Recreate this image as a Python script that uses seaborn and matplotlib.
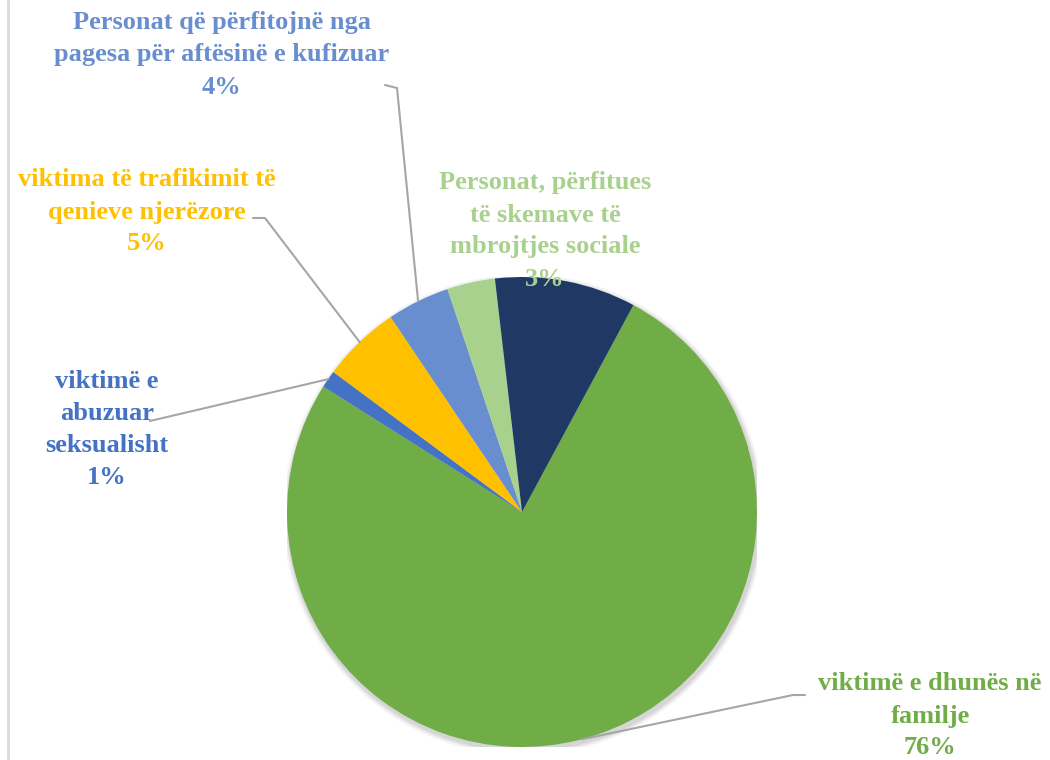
import matplotlib.pyplot as plt
import numpy as np
import seaborn as sns
from matplotlib.lines import Line2D
from matplotlib.patches import Circle

# slice values (share of cases, %), clockwise from the navy/green boundary
categories = [
    "viktimë e dhunës në\nfamilje",
    "viktimë e\nabuzuar\nseksualisht",
    "viktima të trafikimit të\nqenieve njerëzore",
    "Personat që përfitojnë nga\npagesa për aftësinë e kufizuar",
    "Personat, përfitues\ntë skemave të\nmbrojtjes sociale",
    "",
]
values = [76.1, 1.2, 5.4, 4.3, 3.3, 9.7]
colors = ["#70AD47", "#4472C4", "#FFC000", "#698ED0", "#A9D18E", "#203864"]
show_label = [True, True, True, True, True, False]

sns.set_theme(style="white")
plt.rcParams['font.family'] = ['Liberation Serif', 'DejaVu Serif']

W, H = 1050, 760
cx, cy, R = 522, 512, 235  # pie centre and radius in pixels
fig = plt.figure(figsize=(W / 100, H / 100), dpi=100)
ax = fig.add_axes([(cx - R) / W, (H - cy - R) / H, 2 * R / W, 2 * R / H])

# soft shadow under the pie
for i, a in enumerate([0.05, 0.05, 0.04, 0.03]):
    ax.add_patch(Circle((0.006, -0.012), 1.0 + 0.006 * (i + 1), color='black',
                        alpha=a, lw=0, zorder=0))

wedges, _ = ax.pie(values, colors=colors, startangle=90 - 28.3, counterclock=False,
                   radius=1.0, wedgeprops=dict(linewidth=0))
ax.set_xlim(-1, 1)
ax.set_ylim(-1, 1)
ax.set_aspect('equal')
ax.axis('off')


def px(x, y):
    return (x - cx) / R, (cy - y) / R


# label layout: text centre, leader start, optional elbow (pixels)
layout = [
    dict(text=(930, 716), start=(805, 695), elbow=(793, 695)),
    dict(text=(107, 430), start=(150, 421), elbow=None),
    dict(text=(147, 212), start=(253, 218), elbow=(265, 218)),
    dict(text=(222, 55), start=(385, 85), elbow=(397, 88)),
    dict(text=(545, 231), start=None, elbow=None),
    None,
]

total = sum(values)
for w, cat, val, col, show, lay in zip(wedges, categories, values, colors, show_label, layout):
    if not show:
        continue
    pct = f"{round(val / total * 100):.0f}%"
    tx, ty = px(*lay['text'])
    ax.text(tx, ty, f"{cat}\n{pct}", ha='center', va='center', color=col,
            fontsize=19, fontweight='bold', linespacing=1.5, zorder=5)
    if lay['start'] is not None:
        mid = np.deg2rad((w.theta1 + w.theta2) / 2)
        pts = [px(*lay['start'])]
        if lay['elbow'] is not None:
            pts.append(px(*lay['elbow']))
        pts.append((np.cos(mid), np.sin(mid)))
        xs, ys = zip(*pts)
        ax.plot(xs, ys, color='#A6A6A6', lw=1.5, clip_on=False, zorder=4)

# chart frame edge on the left
fig.add_artist(Line2D([8 / W, 8 / W], [0, 1], color='#D9D9D9', lw=2))

fig.savefig('out.png', dpi=100, facecolor='white')
